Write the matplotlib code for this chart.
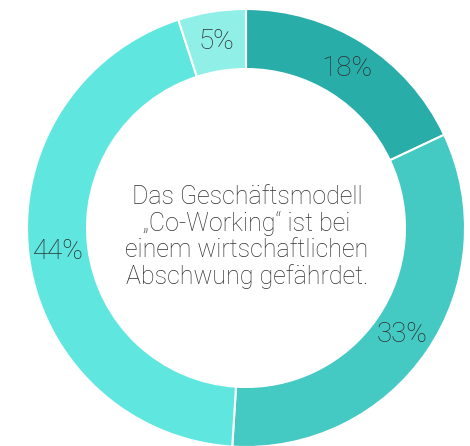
import matplotlib
matplotlib.use("Agg")
import matplotlib.pyplot as plt

values = [18, 33, 44, 5]
labels = ["18%", "33%", "44%", "5%"]
colors = ["#29ada9", "#45cac3", "#5fe6df", "#90f0e7"]
center_text = "Das Geschäftsmodell\n„Co-Working“ ist bei\neinem wirtschaftlichen\nAbschwung gefährdet."

fig = plt.figure(figsize=(4.70, 4.46), dpi=100)
ax = fig.add_axes([0, 0, 1, 1])
R = 219.0
cx, cy = 246.0, 446 - 228.0
ax.set_aspect("equal")
ax.axis("off")

width = 60.0 / R
wedges, texts = ax.pie(values, colors=colors, startangle=90, counterclock=False,
                       radius=1.0, labels=labels, labeldistance=1 - width / 2,
                       wedgeprops=dict(width=width, edgecolor="white", linewidth=1.5),
                       textprops=dict(fontsize=20, color="#2f3033", family="Roboto",
                                      fontweight="light", ha="center", va="center"))
ax.set_xlim(-cx / R, (470 - cx) / R)
ax.set_ylim(-cy / R, (446 - cy) / R)
ax.text(1 / R, -9 / R, center_text, ha="center", va="center", fontsize=18,
        color="#2f3033", family="Roboto", fontweight="light", linespacing=1.1,
        multialignment="center")

fig.savefig("out.png", dpi=100)
